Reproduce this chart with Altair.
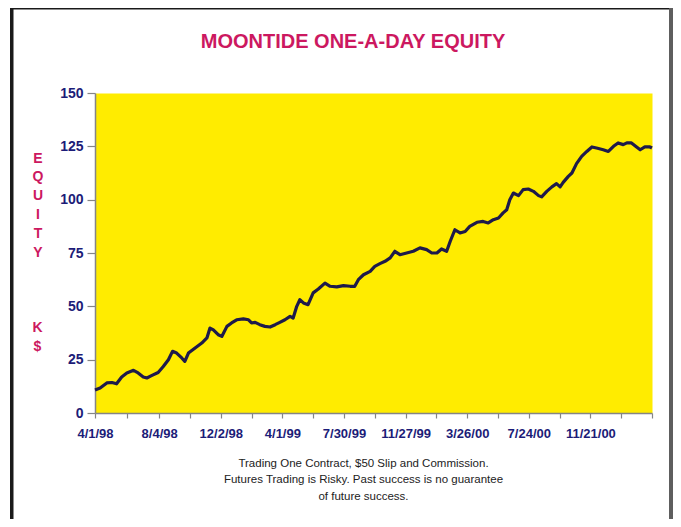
import altair as alt
import pandas as pd

# ---- data ----
dates = [
    "1998-04-01", "1998-04-11", "1998-04-24", "1998-05-04", "1998-05-13", "1998-05-23",
    "1998-06-02", "1998-06-15", "1998-06-24", "1998-07-04", "1998-07-11", "1998-07-20",
    "1998-08-02", "1998-08-12", "1998-08-22", "1998-08-30", "1998-09-07", "1998-09-17",
    "1998-09-23", "1998-09-30", "1998-10-13", "1998-10-26", "1998-11-05", "1998-11-11",
    "1998-11-17", "1998-11-27", "1998-12-04", "1998-12-14", "1998-12-23", "1999-01-02",
    "1999-01-15", "1999-01-25", "1999-01-31", "1999-02-07", "1999-02-16", "1999-02-26",
    "1999-03-08", "1999-03-18", "1999-03-27", "1999-04-06", "1999-04-16", "1999-04-22",
    "1999-04-29", "1999-05-05", "1999-05-12", "1999-05-21", "1999-05-31", "1999-06-10",
    "1999-06-23", "1999-07-03", "1999-07-16", "1999-07-29", "1999-08-11", "1999-08-20",
    "1999-08-27", "1999-09-06", "1999-09-19", "1999-09-28", "1999-10-08", "1999-10-18",
    "1999-10-28", "1999-11-06", "1999-11-16", "1999-11-29", "1999-12-12", "1999-12-25",
    "2000-01-07", "2000-01-17", "2000-01-27", "2000-02-05", "2000-02-15", "2000-02-22",
    "2000-03-02", "2000-03-12", "2000-03-22", "2000-03-31", "2000-04-14", "2000-04-26",
    "2000-05-06", "2000-05-16", "2000-05-26", "2000-06-04", "2000-06-11", "2000-06-17",
    "2000-06-24", "2000-07-04", "2000-07-13", "2000-07-23", "2000-08-02", "2000-08-12",
    "2000-08-18", "2000-08-28", "2000-09-07", "2000-09-16", "2000-09-23", "2000-09-29",
    "2000-10-09", "2000-10-16", "2000-10-25", "2000-11-04", "2000-11-14", "2000-11-24",
    "2000-12-03", "2000-12-16", "2000-12-26", "2001-01-05", "2001-01-14", "2001-01-24",
    "2001-01-31", "2001-02-09", "2001-02-19", "2001-02-26", "2001-03-07", "2001-03-17",
    "2001-03-21",
]
equity = [
    10.8, 11.7, 14.1, 14.3, 13.7, 16.9,
    18.8, 20.0, 18.8, 16.9, 16.4, 17.5,
    19.0, 21.8, 25.0, 28.9, 28.1, 25.8,
    24.2, 28.1, 30.5, 32.8, 35.2, 39.8,
    39.1, 36.7, 35.9, 40.6, 42.2, 43.7,
    44.1, 43.7, 42.2, 42.5, 41.4, 40.6,
    40.3, 41.4, 42.5, 43.7, 45.3, 44.5,
    50.0, 53.1, 51.6, 50.8, 56.3, 58.1,
    60.9, 59.4, 59.1, 59.7, 59.4, 59.4,
    62.5, 64.8, 66.4, 68.7, 70.0, 71.1,
    72.7, 75.8, 74.2, 75.0, 75.8, 77.4,
    76.6, 75.0, 75.0, 76.9, 75.8, 80.5,
    85.9, 84.4, 85.1, 87.5, 89.4, 89.8,
    89.1, 90.6, 91.4, 93.8, 95.3, 100.0,
    103.1, 101.9, 104.7, 105.0, 103.9, 101.9,
    101.3, 103.9, 106.0, 107.5, 106.0, 108.1,
    110.9, 112.5, 116.9, 120.3, 122.6, 124.7,
    124.2, 123.4, 122.6, 125.0, 126.6, 125.8,
    126.6, 126.6, 124.7, 123.4, 124.7, 124.7,
    124.2,
]

label_dates = ["1998-04-01", "1998-08-04", "1998-12-02", "1999-04-01", "1999-07-30",
               "1999-11-27", "2000-03-26", "2000-07-24", "2000-11-21"]
tick_labels = ["4/1/98", "8/4/98", "12/2/98", "4/1/99", "7/30/99",
               "11/27/99", "3/26/00", "7/24/00", "11/21/00"]
minor_tick_dates = ["1998-06-02", "1998-10-03", "1999-01-31", "1999-05-31", "1999-09-28",
                    "2000-01-26", "2000-05-25", "2000-09-22", "2001-01-20", "2001-03-21"]
domain_end = "2001-03-21"
y_ticks = [0, 25, 50, 75, 100, 125, 150]

title_text = "MOONTIDE ONE-A-DAY EQUITY"
y_title_word = ["E", "Q", "U", "I", "T", "Y"]
y_title_unit = ["K", "$"]
footnote = ["Trading One Contract, $50 Slip and Commission.",
            "Futures Trading is Risky. Past success is no guarantee",
            "of future success."]

# ---- build ----
df = pd.DataFrame({"date": dates, "equity": equity})


def ms(s):
    return int(pd.Timestamp(s, tz="UTC").value // 10**6)


FONT = "Liberation Sans, Arial, sans-serif"
NAVY = "#1c1c78"
CRIMSON = "#cc1860"
GREY = "#858585"

tick_values = sorted(ms(d) for d in label_dates + minor_tick_dates)
lab_list = ",".join("'" + t + "'" for t in tick_labels)
fmt = "utcFormat(datum.value, '%-m/%-d/%y')"
label_expr = f"indexof([{lab_list}], {fmt}) >= 0 ? {fmt} : ''"

x_enc = alt.X(
    "date:T",
    scale=alt.Scale(type="utc", domain=[ms(dates[0]), ms(domain_end)]),
    axis=alt.Axis(
        values=tick_values, labelExpr=label_expr, grid=False,
        tickSize=5, tickColor=GREY, tickWidth=1.2, domainColor=GREY, domainWidth=1.5,
        labelFont=FONT, labelFontSize=13, labelFontWeight="bold", labelColor=NAVY,
        labelPadding=9, labelFlush=False, labelOverlap=False, labelAngle=0,
        title=footnote, titleFont=FONT, titleFontSize=11.5, titleFontWeight="normal",
        titleColor="#222222", titlePadding=17, titleLineHeight=16.8, titleX=268,
    ),
)
y_enc = alt.Y(
    "equity:Q",
    scale=alt.Scale(domain=[0, 150], nice=False, zero=True),
    axis=alt.Axis(
        values=y_ticks, grid=False, tickSize=8, tickColor=GREY, tickWidth=1.2,
        domainColor=GREY, domainWidth=1.5,
        labelFont=FONT, labelFontSize=14, labelFontWeight="bold", labelColor=NAVY,
        labelPadding=4, labelFlush=False,
        title=y_title_word, titleAngle=0, titleFont=FONT, titleFontSize=14,
        titleFontWeight="bold", titleColor=CRIMSON, titleLineHeight=18.9,
        titleX=-57.5, titleY=65, titleAlign="center", titleBaseline="middle",
    ),
)

line = alt.Chart(df).mark_line(color="#1e1a4a", strokeWidth=3.2, strokeJoin="round").encode(
    x=x_enc, y=y_enc
)

one = pd.DataFrame({"k": [0]})
title_mark = alt.Chart(one).mark_text(
    text=title_text, font=FONT, fontSize=20, fontWeight="bold", color=CRIMSON,
    align="center", baseline="middle",
).encode(x=alt.value(258), y=alt.value(-51))
unit_mark = alt.Chart(one).mark_text(
    text=y_title_unit, font=FONT, fontSize=14, fontWeight="bold", color=CRIMSON,
    align="center", baseline="middle", lineHeight=18.9,
).encode(x=alt.value(-57.5), y=alt.value(235))
frame_left = alt.Chart(one).mark_rule(color="#1a1a1a", strokeWidth=3.5).encode(
    x=alt.value(-83.25), y=alt.value(-85), y2=alt.value(426))
frame_top = alt.Chart(one).mark_rule(color="#1a1a1a", strokeWidth=3).encode(
    x=alt.value(-85), x2=alt.value(578), y=alt.value(-85))
frame_right = alt.Chart(one).mark_rule(color="#5e5e5e", strokeWidth=4).encode(
    x=alt.value(576), y=alt.value(-85), y2=alt.value(426))

chart = alt.layer(line, title_mark, unit_mark, frame_left, frame_top, frame_right).properties(
    width=557,
    height=320,
    autosize=alt.AutoSizeParams(type="none"),
    padding={"left": 87, "top": 85, "right": 21, "bottom": 106},
    background="white",
).configure_view(fill="#ffec00", stroke="transparent")

chart.save("out.html", embed_options={"renderer": "svg", "actions": False})
